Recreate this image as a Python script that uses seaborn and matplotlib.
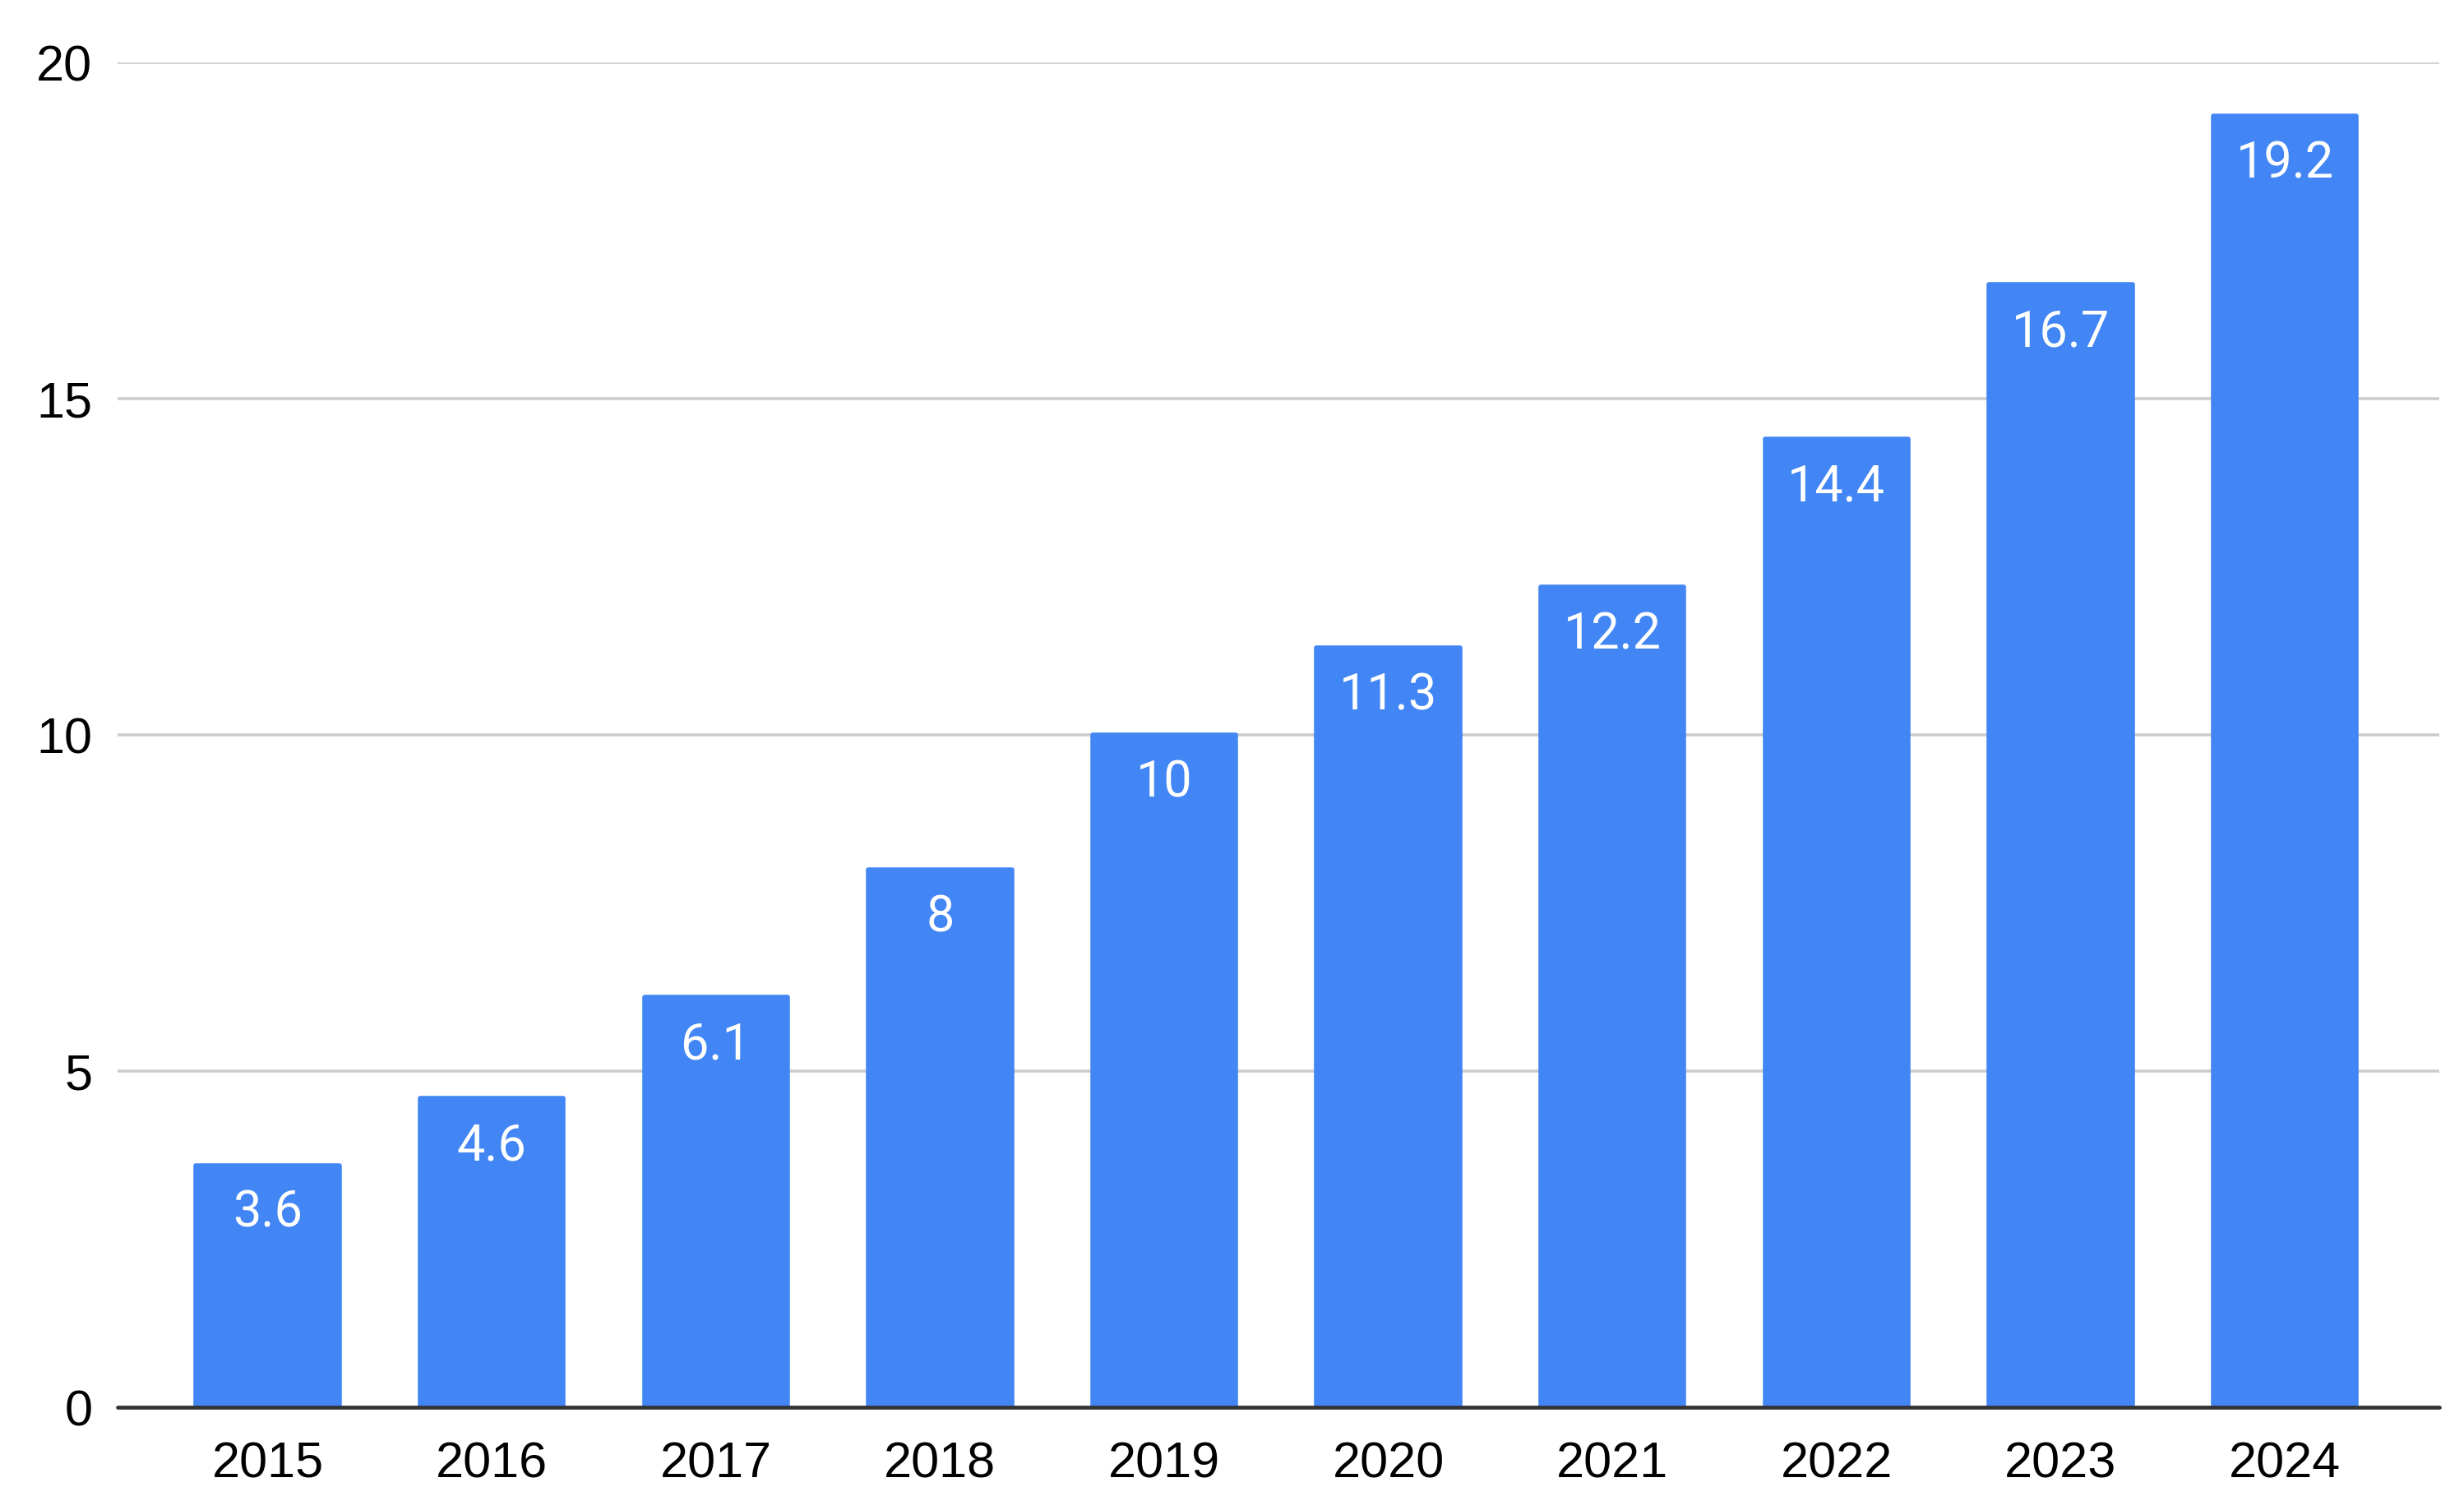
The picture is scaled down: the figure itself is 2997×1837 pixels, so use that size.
import matplotlib
matplotlib.use("Agg")
import matplotlib.pyplot as plt
import pandas as pd
import seaborn as sns

# values
years = ["2015", "2016", "2017", "2018", "2019", "2020", "2021", "2022", "2023", "2024"]
values = [3.6, 4.6, 6.1, 8, 10, 11.3, 12.2, 14.4, 16.7, 19.2]
value_labels = ["3.6", "4.6", "6.1", "8", "10", "11.3", "12.2", "14.4", "16.7", "19.2"]
y_ticks = [0, 5, 10, 15, 20]

df = pd.DataFrame({"year": years, "value": values})

sns.set_theme(style="white")
plt.rcParams["font.family"] = ["Liberation Sans", "DejaVu Sans"]

fig = plt.figure(figsize=(14.985, 9.185), dpi=200)
ax = fig.add_axes([0.0477, 0.068, 0.9423, 0.8906])

sns.barplot(data=df, x="year", y="value", color="#4285F4", width=0.64,
            saturation=1, ax=ax, edgecolor="#4285F4", linewidth=2)
for p in ax.patches:
    p.set_joinstyle("round")

# labels inside the top of each bar
for i, (v, lab) in enumerate(zip(values, value_labels)):
    ax.annotate(lab, (i, v), xytext=(0, -21), textcoords="offset points",
                ha="center", va="center", color="white", fontsize=22,
                family=["Roboto", "DejaVu Sans"])

ax.set_ylim(0, 20)
ax.set_xlim(-0.67, 9.69)
ax.set_yticks(y_ticks)
ax.set_yticklabels([str(t) for t in y_ticks])
ax.yaxis.grid(True, color="#cccccc", linewidth=1.3)
ax.set_axisbelow(True)

for s in ["top", "right", "left", "bottom"]:
    ax.spines[s].set_visible(False)
# baseline drawn across the full width
ax.axhline(0, color="#333333", linewidth=1.7, zorder=5, clip_on=False)

ax.tick_params(axis="y", length=0, pad=11, labelsize=22, labelcolor="black")
ax.tick_params(axis="x", length=0, pad=15, labelsize=22, labelcolor="black")
ax.set_xlabel("")
ax.set_ylabel("")

fig.savefig("out.png", dpi=200, facecolor="white")
